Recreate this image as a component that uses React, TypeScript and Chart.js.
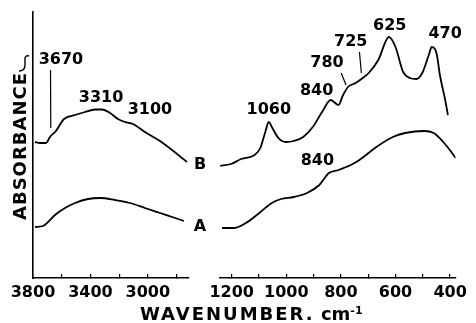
import React, { useEffect, useRef } from "react";
import { Chart, registerables } from "chart.js";

Chart.register(...registerables);

// ---- axis ticks ----
const LEFT_TICKS = [3800, 3600, 3400, 3200, 3000, 2800];
const LEFT_TICK_LABELS = [3800, 3400, 3000];
const RIGHT_TICKS = [1200, 1100, 1000, 900, 800, 700, 600, 500, 400];
const RIGHT_TICK_LABELS = [1200, 1000, 800, 600, 400];

// ---- spectra (wavenumber, absorbance in arbitrary units) ----
const LEFT_WN_B = [3786, 3751, 3709, 3682, 3640, 3584, 3507, 3438, 3368, 3319, 3263, 3208, 3159, 3103, 3020, 2915, 2831, 2762, 2727];
const LEFT_ABS_B = [1.36, 1.35, 1.35, 1.41, 1.47, 1.59, 1.63, 1.66, 1.685, 1.685, 1.65, 1.59, 1.56, 1.54, 1.46, 1.37, 1.28, 1.2, 1.16];
const LEFT_WN_A = [3786, 3730, 3695, 3647, 3577, 3507, 3417, 3333, 3229, 3124, 3020, 2915, 2810, 2748];
const LEFT_ABS_A = [0.51, 0.52, 0.56, 0.63, 0.7, 0.75, 0.79, 0.8, 0.78, 0.75, 0.7, 0.65, 0.6, 0.57];
const RIGHT_WN_B = [1245, 1203, 1165, 1116, 1095, 1078, 1064, 1053, 1029, 1001, 973, 938, 903, 869, 837, 809, 792, 774, 746, 715, 698, 663, 624, 600, 572, 548, 523, 502, 478, 467, 450, 436, 418, 408];
const RIGHT_ABS_B = [1.12, 1.14, 1.19, 1.23, 1.3, 1.45, 1.56, 1.51, 1.4, 1.36, 1.37, 1.41, 1.51, 1.66, 1.78, 1.73, 1.83, 1.91, 1.95, 2.01, 2.05, 2.18, 2.41, 2.31, 2.06, 2.0, 1.99, 2.05, 2.23, 2.31, 2.25, 2.01, 1.78, 1.63];
const RIGHT_WN_A = [1235, 1193, 1148, 1099, 1053, 1019, 973, 924, 879, 844, 809, 764, 732, 670, 610, 565, 495, 460, 425, 401, 380];
const RIGHT_ABS_A = [0.5, 0.5, 0.55, 0.65, 0.75, 0.79, 0.81, 0.85, 0.93, 1.05, 1.08, 1.13, 1.18, 1.31, 1.41, 1.45, 1.47, 1.45, 1.36, 1.28, 1.2];

// ---- annotations (text anchored in data coordinates) ----
const LEFT_NOTES = [
  { text: "3670", wn: 3605, abs: 2.18 },
  { text: "3310", wn: 3326, abs: 1.8 },
  { text: "3100", wn: 2985, abs: 1.68 },
  { text: "B", wn: 2636, abs: 1.13 },
  { text: "A", wn: 2636, abs: 0.51 },
];
const LEFT_LEADERS = [{ wn1: 3678, abs1: 2.08, wn2: 3676, abs2: 1.5 }];
const RIGHT_NOTES = [
  { text: "1060", wn: 1064, abs: 1.68 },
  { text: "840", wn: 889, abs: 1.87 },
  { text: "780", wn: 851, abs: 2.15 },
  { text: "725", wn: 764, abs: 2.36 },
  { text: "625", wn: 621, abs: 2.52 },
  { text: "470", wn: 418, abs: 2.44 },
  { text: "840", wn: 886, abs: 1.17 },
];
const RIGHT_LEADERS = [
  { wn1: 799, abs1: 2.05, wn2: 781, abs2: 1.93 },
  { wn1: 732, abs1: 2.26, wn2: 725, abs2: 2.05 },
];

const FAMILY = '"DejaVu Sans", sans-serif';
const ABS_MAX = 2.66;

const toPoints = (xs: number[], ys: number[]) => xs.map((x, i) => ({ x, y: ys[i] }));

const lineDs = (label: string, data: { x: number; y: number }[]) => ({
  label,
  data,
  borderColor: "#000",
  borderWidth: 1.8,
  pointRadius: 0,
  fill: false,
  cubicInterpolationMode: "monotone" as const,
});

function notesPlugin(notes: any[], leaders: any[], drawArrow: boolean) {
  return {
    id: "notes",
    afterDraw(chart: any) {
      const { ctx } = chart;
      const x = chart.scales.x;
      const y = chart.scales.y;
      ctx.save();
      ctx.fillStyle = "#000";
      ctx.font = `bold 16px ${FAMILY}`;
      ctx.textAlign = "center";
      ctx.textBaseline = "middle";
      for (const n of notes) {
        ctx.fillText(n.text, x.getPixelForValue(n.wn), y.getPixelForValue(n.abs));
      }
      ctx.strokeStyle = "#000";
      ctx.lineWidth = 1.2;
      for (const l of leaders) {
        ctx.beginPath();
        ctx.moveTo(x.getPixelForValue(l.wn1), y.getPixelForValue(l.abs1));
        ctx.lineTo(x.getPixelForValue(l.wn2), y.getPixelForValue(l.abs2));
        ctx.stroke();
      }
      if (drawArrow) {
        // small curl above the rotated ABSORBANCE title
        ctx.lineWidth = 1.4;
        ctx.beginPath();
        ctx.moveTo(19, 71);
        ctx.quadraticCurveTo(25, 71, 25, 65);
        ctx.lineTo(25, 59);
        ctx.quadraticCurveTo(25, 55, 29, 56);
        ctx.stroke();
      }
      ctx.restore();
    },
  };
}

function xScale(min: number, max: number, ticks: number[], labels: number[]) {
  return {
    type: "linear" as const,
    reverse: true,
    min,
    max,
    afterFit: (s: any) => {
      s.height = 45;
    },
    afterBuildTicks: (s: any) => {
      s.ticks = ticks.map((value) => ({ value }));
    },
    grid: {
      display: true,
      drawOnChartArea: false,
      drawTicks: true,
      tickLength: -4,
      color: "#000",
      lineWidth: 1.2,
    },
    border: { display: true, color: "#000", width: 1.6 },
    ticks: {
      color: "#000",
      font: { family: FAMILY, size: 16, weight: "bold" as const },
      padding: 9,
      maxRotation: 0,
      autoSkip: false,
      callback: (v: any) => (labels.includes(Number(v)) ? String(v) : ""),
    },
  };
}

export default function App() {
  const leftRef = useRef<HTMLCanvasElement | null>(null);
  const rightRef = useRef<HTMLCanvasElement | null>(null);

  useEffect(() => {
    if (!leftRef.current || !rightRef.current) return;
    const left = new Chart(leftRef.current, {
      type: "line",
      data: {
        datasets: [
          lineDs("B", toPoints(LEFT_WN_B, LEFT_ABS_B)),
          lineDs("A", toPoints(LEFT_WN_A, LEFT_ABS_A)),
        ],
      },
      options: {
        responsive: false,
        animation: false,
        events: [],
        layout: { padding: { left: 33, top: 12, right: 23, bottom: 0 } },
        plugins: { legend: { display: false }, tooltip: { enabled: false } },
        scales: {
          x: xScale(2713, 3800, LEFT_TICKS, LEFT_TICK_LABELS),
          y: {
            min: 0,
            max: ABS_MAX,
            afterFit: (s: any) => {
              s.width = 0;
            },
            ticks: { display: false },
            grid: { display: false },
            border: { display: true, color: "#000", width: 1.6 },
          },
        },
      } as any,
      plugins: [notesPlugin(LEFT_NOTES, LEFT_LEADERS, true)],
    });
    const right = new Chart(rightRef.current, {
      type: "line",
      data: {
        datasets: [
          lineDs("B", toPoints(RIGHT_WN_B, RIGHT_ABS_B)),
          lineDs("A", toPoints(RIGHT_WN_A, RIGHT_ABS_A)),
        ],
      },
      options: {
        responsive: false,
        animation: false,
        events: [],
        layout: { padding: { left: 16, top: 12, right: 13, bottom: 0 } },
        plugins: { legend: { display: false }, tooltip: { enabled: false } },
        scales: {
          x: xScale(380, 1242, RIGHT_TICKS, RIGHT_TICK_LABELS),
          y: { display: false, min: 0, max: ABS_MAX },
        },
      } as any,
      plugins: [notesPlugin(RIGHT_NOTES, RIGHT_LEADERS, false)],
    });
    return () => {
      left.destroy();
      right.destroy();
    };
  }, []);

  return (
    <div style={{ position: "absolute", left: 0, top: 0, width: 476, height: 323, background: "#fff", overflow: "hidden" }}>
      <canvas
        ref={leftRef}
        width={212}
        height={323}
        style={{ position: "absolute", left: 0, top: 0, width: 212, height: 323 }}
      />
      <canvas
        ref={rightRef}
        width={276}
        height={323}
        style={{ position: "absolute", left: 200, top: 0, width: 276, height: 323 }}
      />
      <div
        style={{
          position: "absolute",
          left: -60,
          top: 137,
          width: 160,
          height: 18,
          lineHeight: "18px",
          textAlign: "center",
          fontFamily: FAMILY,
          fontWeight: "bold",
          fontSize: 18,
          letterSpacing: 1,
          color: "#000",
          transform: "rotate(-90deg)",
          whiteSpace: "nowrap",
        }}
      >
        ABSORBANCE
      </div>
      <div
        style={{
          position: "absolute",
          left: 140,
          top: 305,
          height: 18,
          lineHeight: "18px",
          fontFamily: FAMILY,
          fontWeight: "bold",
          fontSize: 18,
          color: "#000",
          whiteSpace: "nowrap",
        }}
      >
        <span style={{ letterSpacing: 2 }}>WAVENUMBER.</span> cm
        <sup style={{ fontSize: 11, lineHeight: 0, verticalAlign: "6px" }}>-1</sup>
      </div>
    </div>
  );
}
